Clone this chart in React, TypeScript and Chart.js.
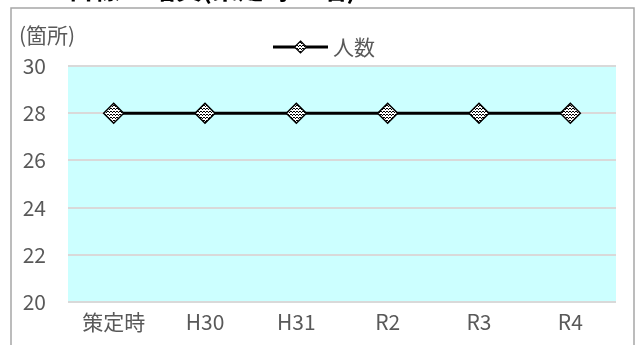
import React, { useEffect, useRef } from "react";
import { Chart, registerables } from "chart.js";

Chart.register(...registerables);

const categories = ["策定時", "H30", "H31", "R2", "R3", "R4"];
const seriesName = "人数";
const seriesValues = [28, 28, 28, 28, 28, 28];
const yMin = 20;
const yMax = 30;
const yStep = 2;
const unitLabel = "(箇所)";
const titleLeft = "目標";
const titleRight = "増員(策定時28名)";

const FONT = '"Noto Sans CJK JP", "Noto Sans", sans-serif';
const GRAY = "#595959";

function makePattern(): CanvasPattern | string {
  const c = document.createElement("canvas");
  c.width = 3;
  c.height = 3;
  const g = c.getContext("2d");
  if (!g) return "#888";
  g.fillStyle = "#ffffff";
  g.fillRect(0, 0, 3, 3);
  g.fillStyle = "#000000";
  g.fillRect(0, 0, 1, 1);
  g.fillRect(1, 1, 1, 1);
  g.fillRect(2, 0, 1, 1);
  const p = g.createPattern(c, "repeat");
  return p || "#888";
}

export default function App() {
  const ref = useRef<HTMLCanvasElement | null>(null);

  useEffect(() => {
    const canvas = ref.current;
    if (!canvas) return;
    const pattern = makePattern();

    const decor = {
      id: "decor",
      beforeDraw(chart: any) {
        const { ctx, chartArea } = chart;
        ctx.save();
        ctx.fillStyle = "#CCFFFF";
        ctx.fillRect(chartArea.left, chartArea.top, chartArea.right - chartArea.left, chartArea.bottom - chartArea.top);
        ctx.restore();
      },
      afterDraw(chart: any) {
        const { ctx } = chart;
        ctx.save();
        // outer frame
        ctx.strokeStyle = "#a6a6a6";
        ctx.lineWidth = 1.5;
        ctx.strokeRect(11, 8, 623, 400);
        // unit label
        ctx.fillStyle = GRAY;
        ctx.font = `21px ${FONT}`;
        ctx.textBaseline = "middle";
        ctx.textAlign = "left";
        ctx.fillText(unitLabel, 19, 35);
        // legend
        const ly = 47;
        ctx.strokeStyle = "#000";
        ctx.lineWidth = 3;
        ctx.beginPath();
        ctx.moveTo(273, ly);
        ctx.lineTo(328, ly);
        ctx.stroke();
        const cx = 300.5, r = 6;
        ctx.beginPath();
        ctx.moveTo(cx, ly - r);
        ctx.lineTo(cx + r, ly);
        ctx.lineTo(cx, ly + r);
        ctx.lineTo(cx - r, ly);
        ctx.closePath();
        ctx.fillStyle = pattern as any;
        ctx.fill();
        ctx.lineWidth = 1.2;
        ctx.stroke();
        ctx.fillStyle = GRAY;
        ctx.font = `21px ${FONT}`;
        ctx.fillText(seriesName, 333, ly);
        ctx.restore();
      },
    };

    const chart = new Chart(canvas, {
      type: "line",
      data: {
        labels: categories,
        datasets: [
          {
            label: seriesName,
            data: seriesValues,
            borderColor: "#000000",
            borderWidth: 3,
            pointStyle: "rectRot",
            pointRadius: 10,
            pointBorderWidth: 1.5,
            pointBorderColor: "#000000",
            pointBackgroundColor: pattern as any,
            fill: false,
            tension: 0,
          },
        ],
      },
      options: {
        responsive: false,
        animation: false,
        devicePixelRatio: 1,
        layout: { padding: { left: 0, right: 25, top: 66, bottom: 0 } },
        plugins: {
          legend: { display: false },
          title: { display: false },
          tooltip: { enabled: false },
        },
        scales: {
          x: {
            offset: true,
            grid: { display: false, drawTicks: false },
            border: { display: false },
            ticks: { color: GRAY, font: { family: FONT, size: 21 }, padding: 7, maxRotation: 0 },
            afterFit: (s: any) => { s.height = 43; },
          },
          y: {
            min: yMin,
            max: yMax,
            grid: { color: "#d9d9d9", lineWidth: 2, drawTicks: false },
            border: { display: false },
            ticks: { stepSize: yStep, color: GRAY, font: { family: FONT, size: 21 }, padding: 22 },
            afterFit: (s: any) => { s.width = 68; },
          },
        },
      },
      plugins: [decor],
    });
    return () => chart.destroy();
  }, []);

  return (
    <div style={{ position: "fixed", left: 0, top: 0, width: 641, height: 345, overflow: "hidden", background: "#fff" }}>
      <canvas ref={ref} width={641} height={345} style={{ position: "absolute", left: 0, top: 0 }} />
      <div
        style={{
          position: "absolute",
          top: -25,
          left: 68,
          width: 400,
          height: 30,
          fontFamily: FONT,
          fontWeight: "bold",
          fontSize: 26,
          lineHeight: "26px",
          color: "#000",
          whiteSpace: "nowrap",
        }}
      >
        <span>{titleLeft}</span>
        <span style={{ position: "absolute", left: 82, top: 0 }}>{titleRight}</span>
      </div>
    </div>
  );
}
